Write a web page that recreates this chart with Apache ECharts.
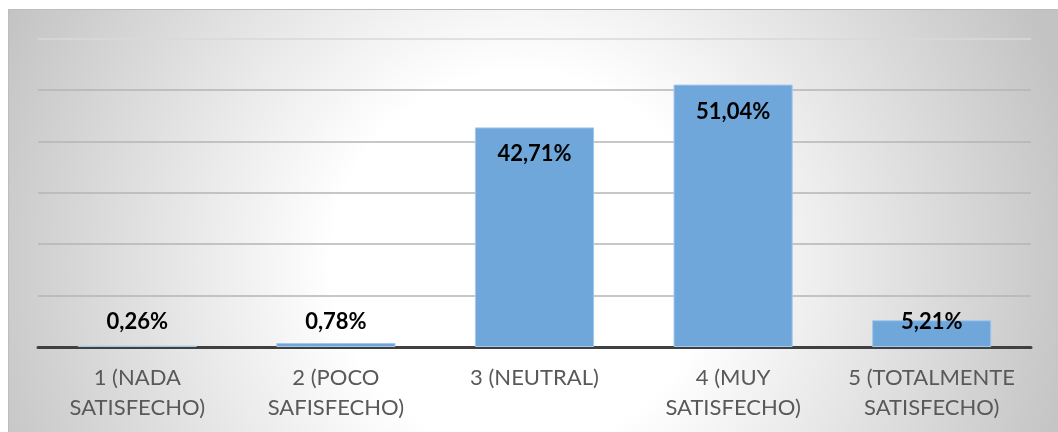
<!DOCTYPE html>
<html>
<head>
<meta charset="utf-8">
<script src="https://cdn.jsdelivr.net/npm/echarts@6/dist/echarts.min.js"></script>
<style>
  html, body { margin: 0; padding: 0; width: 1058px; height: 432px; background: #ffffff; overflow: hidden; }
  #bg {
    position: absolute; left: 8px; top: 9px; width: 1050px; height: 423px;
    border-top: 1px solid #bdbdbd; border-left: 1px solid #bdbdbd; box-sizing: border-box;
    background: radial-gradient(circle 570px at 512px 251px, #ffffff 0%, #ffffff 33%, #c3c3c3 100%);
  }
  #chart { position: absolute; left: 0; top: 0; width: 1058px; height: 432px; }
</style>
</head>
<body>
<div id="bg"></div>
<div id="chart"></div>
<script>
const categories = [
  '1 (NADA\nSATISFECHO)',
  '2 (POCO\nSAFISFECHO)',
  '3 (NEUTRAL)',
  '4 (MUY\nSATISFECHO)',
  '5 (TOTALMENTE\nSATISFECHO)'
];
const values = [0.26, 0.78, 42.71, 51.04, 5.21];
const yTicks = [0, 10, 20, 30, 40, 50, 60];

const FONT = 'Lato, "Open Sans", sans-serif';

const seriesData = values.map(v => ({
  value: v,
  label: v < 10
    ? { position: 'insideBottom', distance: 14 }
    : { position: 'insideTop', distance: 16 }
}));

const gridColors = yTicks.map((t, i) => i === yTicks.length - 1 ? '#d9d9d9' : '#b5b5b5');

const chart = echarts.init(document.getElementById('chart'), null, { renderer: 'canvas' });
chart.setOption({
  backgroundColor: 'transparent',
  animation: false,
  grid: { left: 38, right: 27, top: 38.5, bottom: 85, containLabel: false },
  xAxis: {
    type: 'category',
    data: categories,
    axisLine: { show: true, lineStyle: { color: '#404040', width: 3 } },
    axisTick: { show: false },
    axisLabel: {
      color: '#595959', fontFamily: FONT, fontSize: 22, lineHeight: 30,
      margin: 16, interval: 0
    }
  },
  yAxis: {
    type: 'value',
    min: yTicks[0], max: yTicks[yTicks.length - 1], interval: yTicks[1] - yTicks[0],
    axisLine: { show: false },
    axisTick: { show: false },
    axisLabel: { show: false },
    splitLine: { show: true, lineStyle: { color: gridColors, width: 1.5 } }
  },
  series: [{
    type: 'bar',
    data: seriesData,
    barWidth: '60%',
    itemStyle: { color: '#70a7da', borderColor: '#a3c8ec', borderWidth: 1 },
    label: {
      show: true,
      color: '#000000', fontFamily: FONT, fontWeight: 'bold', fontSize: 22,
      formatter: p => p.value.toFixed(2).replace('.', ',') + '%'
    }
  }]
});
</script>
</body>
</html>
